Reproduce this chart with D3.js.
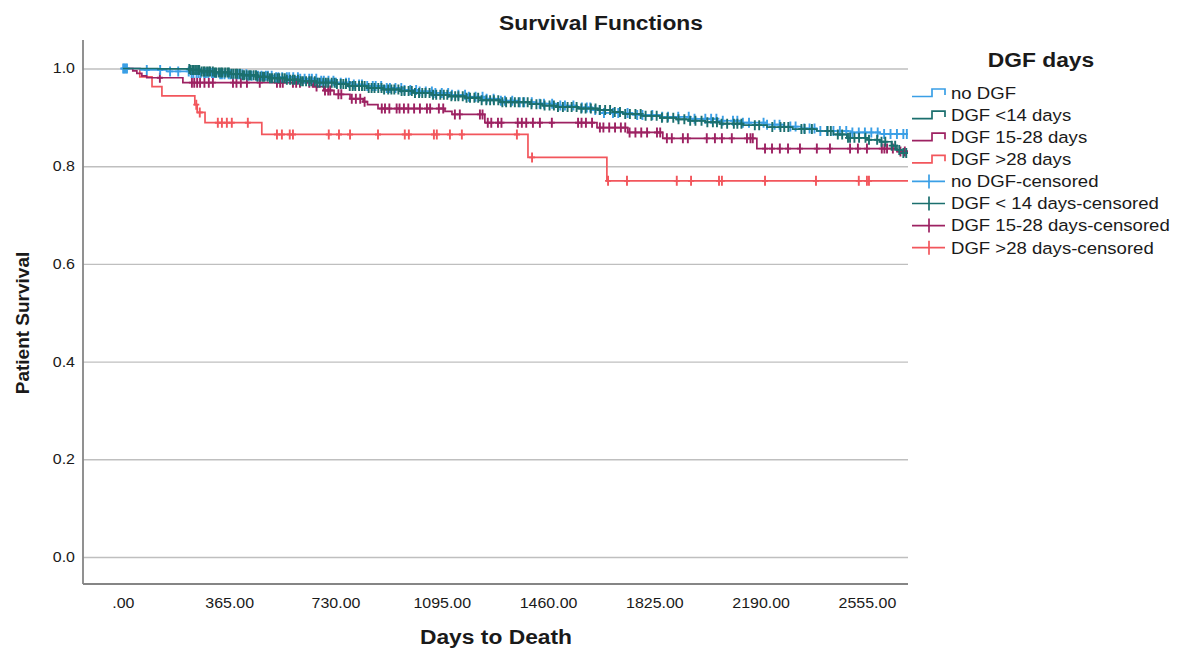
<!DOCTYPE html>
<html>
<head>
<meta charset="utf-8">
<script src="https://cdn.jsdelivr.net/npm/d3@7"></script>
<style>
  body { margin: 0; background: #fff; }
  text { font-family: Arial, "Liberation Sans", sans-serif; fill: #1a1a1a; }
</style>
</head>
<body>
<div id="chart"></div>
<script>
// axis ticks
var xTicks = [0, 365, 730, 1095, 1460, 1825, 2190, 2555];
var xTickLabels = [".00", "365.00", "730.00", "1095.00", "1460.00", "1825.00", "2190.00", "2555.00"];
var yTicks = [0, 0.2, 0.4, 0.6, 0.8, 1.0];
var yTickLabels = ["0.0", "0.2", "0.4", "0.6", "0.8", "1.0"];

var groupNames = ["no DGF", "DGF <14 days", "DGF 15-28 days", "DGF >28 days"];
var censoredNames = ["no DGF-censored", "DGF < 14 days-censored", "DGF 15-28 days-censored", "DGF >28 days-censored"];

// [day, cumulative survival after the event]
var noDgfEvents = [[0,1],[60,0.997],[150,0.994],[230,0.991],[330,0.988],[430,0.985],[520,0.982],[608,0.979],[670,0.975],
  [730,0.971],[790,0.967],[838,0.964],[900,0.960],[960,0.956],[1010,0.953],[1065,0.950],[1120,0.946],[1180,0.942],
  [1240,0.938],[1295,0.934],[1360,0.931],[1420,0.928],[1490,0.924],[1560,0.920],[1610,0.915],[1650,0.909],[1750,0.905],
  [1850,0.901],[1947,0.897],[2040,0.893],[2120,0.889],[2212,0.885],[2270,0.881],[2330,0.877],[2383,0.872],[2500,0.869],[2600,0.866]];
var noDgfCensored = [1,5,9,14,82,128,162,190,226,236,242,253,260,267,279,285,293,306,312,320,334,340,349,363,369,379,393,399,
  410,424,431,442,457,464,476,491,498,511,526,534,547,563,571,585,601,609,624,640,649,664,681,690,706,723,732,748,766,776,
  793,811,821,839,858,868,887,906,917,936,956,967,987,1007,1019,1040,1061,1073,1095,1117,1130,1152,1175,1188,1211,1235,
  1249,1273,1298,1312,1337,1363,1378,1404,1431,1446,1474,1502,1518,1547,1576,1593,1605,1622,1637,1652,1683,1701,1733,
  1766,1784,1818,1852,1872,1907,1943,1963,2000,2020,2038,2060,2095,2110,2129,2150,2200,2212,2238,2255,2292,2310,2340,
  2358,2375,2395,2418,2440,2462,2484,2505,2527,2548,2570,2592,2614,2636,2658,2680,2692];

var dgf14Events = [[0,1],[120,0.999],[230,0.997],[270,0.994],[310,0.992],[367,0.989],[410,0.986],[460,0.983],[505,0.980],
  [560,0.977],[608,0.974],[665,0.971],[728,0.968],[775,0.964],[838,0.960],[890,0.957],[951,0.954],[1000,0.950],[1065,0.946],
  [1120,0.943],[1178,0.940],[1230,0.935],[1295,0.931],[1398,0.927],[1440,0.924],[1490,0.921],[1560,0.918],[1638,0.915],
  [1680,0.911],[1717,0.907],[1780,0.903],[1844,0.899],[1900,0.896],[1947,0.893],[2000,0.890],[2050,0.887],[2130,0.884],
  [2212,0.880],[2300,0.876],[2383,0.872],[2440,0.865],[2486,0.858],[2560,0.854],[2600,0.850],[2640,0.842],[2658,0.833],[2679,0.827]];
var dgf14Censored = [228,233,240,244,251,258,262,270,277,281,289,296,300,309,316,321,330,337,342,351,359,364,373,380,388,393,
  402,411,416,425,434,439,449,457,462,472,481,486,497,505,512,521,531,537,548,556,563,574,583,590,601,611,618,629,640,647,
  659,668,676,688,697,705,717,727,735,748,757,766,779,789,798,811,821,830,844,854,864,877,888,897,911,922,932,946,957,967,
  981,992,1003,1017,1028,1039,1053,1065,1076,1090,1102,1114,1128,1141,1152,1167,1180,1192,1207,1220,1232,1248,1261,1274,
  1289,1303,1316,1332,1346,1359,1375,1390,1403,1420,1434,1448,1465,1480,1494,1511,1527,1541,1558,1574,1589,1607,1623,1638,
  1656,1673,1689,1707,1725,1741,1760,1778,1795,1815,1833,1851,1870,1890,1908,1928,1948,1966,1987,2007,2026,2040,2056,2075,
  2098,2110,2124,2170,2185,2230,2258,2271,2285,2330,2341,2366,2420,2431,2455,2470,2490,2497,2512,2528,2550,2562,2590,2605,
  2618,2640,2652,2666,2680,2690];

var dgf28Events = [[0,1],[34,0.995],[48,0.990],[65,0.985],[82,0.981],[206,0.971],[655,0.963],[690,0.955],[725,0.947],
  [780,0.938],[825,0.932],[840,0.926],[876,0.918],[1106,0.912],[1130,0.906],[1243,0.889],[1628,0.879],[1734,0.869],
  [1854,0.857],[2177,0.836],[2658,0.830]];
var dgf28Censored = [127,237,245,255,265,280,295,309,378,390,405,426,470,529,540,549,584,595,608,640,652,665,694,705,712,
  740,750,786,800,815,830,889,900,915,940,950,965,980,1000,1020,1044,1055,1085,1100,1140,1157,1226,1235,1253,1265,1288,1300,
  1356,1370,1385,1408,1432,1473,1563,1575,1590,1611,1638,1650,1670,1690,1710,1725,1740,1760,1780,1800,1834,1845,1868,1885,
  1923,1940,2005,2033,2057,2091,2143,2155,2163,2205,2229,2256,2284,2325,2383,2428,2497,2524,2555,2606,2615,2624,2644,2670,2685,2700];

var dgfOver28Events = [[0,1],[58,0.983],[100,0.963],[134,0.944],[247,0.926],[255,0.910],[282,0.889],[477,0.865],[1391,0.818],[1662,0.770]];
var dgfOver28Censored = [252,264,326,340,357,374,429,529,546,573,584,707,742,780,876,968,982,1068,1078,1123,1164,1353,1405,
  1666,1731,1902,1951,2047,2057,2205,2380,2527,2555,2562,2710];

var colors = ["#3a9fe6", "#1b6f6e", "#9d2262", "#f2565c"];

var series = [
  {events: dgfOver28Events, censored: dgfOver28Censored, color: colors[3]},
  {events: dgf28Events, censored: dgf28Censored, color: colors[2]},
  {events: noDgfEvents, censored: noDgfCensored, color: colors[0]},
  {events: dgf14Events, censored: dgf14Censored, color: colors[1]}
];

var width = 825, height = 544;
var svg = d3.select("#chart").append("svg")
    .attr("width", 1181)
    .attr("height", 651);

// text looks horizontally stretched in the reference
function stretch(sel, k) {
  sel.each(function() {
    var w = this.getComputedTextLength();
    d3.select(this).attr("textLength", w * k).attr("lengthAdjust", "spacingAndGlyphs");
  });
}
var sx = 1.14;

var g = svg.append("g").attr("transform", "translate(83,40)");

var x = d3.scaleLinear().domain([-137, 2696]).range([0, width]);
var y = d3.scaleLinear().domain([-0.0553, 1.0583]).range([height, 0]);

// gridlines + y labels
var yAxis = g.append("g")
  .call(d3.axisLeft(y).tickValues(yTicks).tickSize(-width).tickPadding(8)
    .tickFormat(function(d, i) { return yTickLabels[i]; }));
yAxis.select(".domain").remove();
yAxis.selectAll("line").attr("stroke", "#bfbfbf").attr("stroke-width", 1.4);
yAxis.selectAll("text").attr("font-size", 14).attr("fill", "#222").style("font-family", "Arial, 'Liberation Sans', sans-serif").call(stretch, sx);

var xAxis = g.append("g")
  .attr("transform", "translate(0," + height + ")")
  .call(d3.axisBottom(x).tickValues(xTicks).tickSize(0).tickPadding(14)
    .tickFormat(function(d, i) { return xTickLabels[i]; }));
xAxis.select(".domain").remove();
xAxis.selectAll("text").attr("font-size", 14).attr("fill", "#222").style("font-family", "Arial, 'Liberation Sans', sans-serif").call(stretch, sx);

// axis lines
g.append("line").attr("x1", 0).attr("x2", 0).attr("y1", 0).attr("y2", height)
  .attr("stroke", "#858585").attr("stroke-width", 1.8);
g.append("line").attr("x1", 0).attr("x2", width).attr("y1", height).attr("y2", height)
  .attr("stroke", "#858585").attr("stroke-width", 1.8);

g.append("clipPath").attr("id", "plotclip")
  .append("rect").attr("x", 0).attr("y", 0).attr("width", width).attr("height", height);

var plot = g.append("g").attr("clip-path", "url(#plotclip)");

var line = d3.line()
  .x(function(d) { return x(d[0]); })
  .y(function(d) { return y(d[1]); })
  .curve(d3.curveStepAfter);

var bis = d3.bisector(function(d) { return d[0]; }).right;
function survAt(events, t) {
  var i = bis(events, t) - 1;
  return events[Math.max(i, 0)][1];
}

series.forEach(function(s) {
  var last = s.events[s.events.length - 1];
  var endT = Math.max(last[0], d3.max(s.censored));
  var pts = s.events.concat([[endT, last[1]]]);

  plot.append("path")
    .datum(pts)
    .attr("fill", "none")
    .attr("stroke", s.color)
    .attr("stroke-width", 1.7)
    .attr("d", line);

  plot.append("g").selectAll("path")
    .data(s.censored)
    .enter().append("path")
    .attr("fill", "none")
    .attr("stroke", s.color)
    .attr("stroke-width", 1.9)
    .attr("d", function(t) {
      var cx = x(t), cy = y(survAt(s.events, t));
      return "M" + cx + "," + (cy - 5) + "V" + (cy + 5) + "M" + (cx - 3) + "," + cy + "H" + (cx + 3);
    });
});

// titles
svg.append("text").attr("x", 601).attr("y", 30).attr("text-anchor", "middle")
  .attr("font-size", 20).attr("font-weight", "bold").text("Survival Functions").call(stretch, sx);
svg.append("text").attr("x", 496).attr("y", 644).attr("text-anchor", "middle")
  .attr("font-size", 20).attr("font-weight", "bold").text("Days to Death").call(stretch, sx);
svg.append("text").attr("transform", "translate(29,323) rotate(-90)").attr("text-anchor", "middle")
  .attr("font-size", 19).attr("font-weight", "bold").text("Patient Survival");

// legend
var legend = svg.append("g");
legend.append("text").attr("x", 1041).attr("y", 67).attr("text-anchor", "middle")
  .attr("font-size", 20).attr("font-weight", "bold").text("DGF days").call(stretch, sx);

var legendItems = groupNames.map(function(n, i) { return {name: n, color: colors[i], censored: false}; })
  .concat(censoredNames.map(function(n, i) { return {name: n, color: colors[i], censored: true}; }));

legendItems.forEach(function(d, i) {
  var cy = 93 + i * 22.1;
  var sym = d.censored
    ? "M912," + cy + "H945M929," + (cy - 7) + "V" + (cy + 7)
    : "M912," + (cy + 3.5) + "H932V" + (cy - 4) + "H945V" + (cy + 2);
  legend.append("path").attr("d", sym).attr("fill", "none")
    .attr("stroke", d.color).attr("stroke-width", 1.7);
  legend.append("text").attr("x", 951).attr("y", cy).attr("dy", "0.36em")
    .attr("font-size", 16.3).text(d.name).call(stretch, sx);
});
</script>
</body>
</html>
